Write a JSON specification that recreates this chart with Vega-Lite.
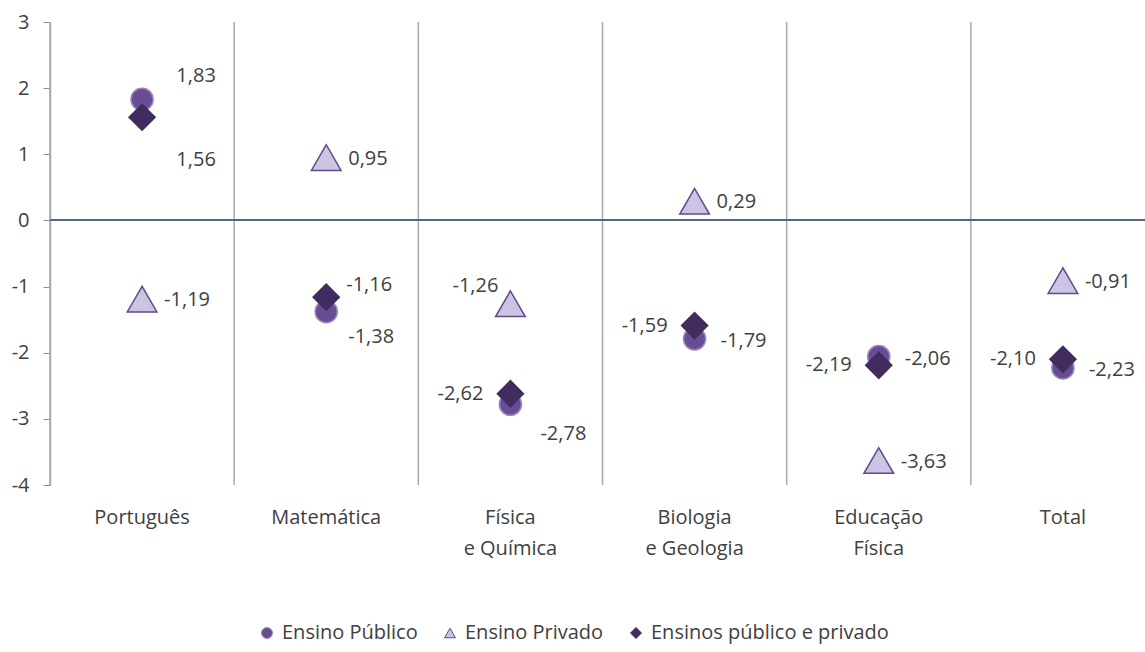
{
  "$schema": "https://vega.github.io/schema/vega-lite/v6.json",
  "width": 1095,
  "height": 463,
  "autosize": {"type": "none"},
  "padding": {"left": 50, "top": 22, "right": 0, "bottom": 167},
  "background": "white",
  "config": {
    "locale": {"number": {"decimal": ",", "thousands": ".", "grouping": [3], "currency": ["", " €"], "minus": "-"}},
    "font": "Open Sans",
    "view": {"stroke": null},
    "text": {"font": "Open Sans", "fontSize": 20, "fill": "#404040", "baseline": "middle"}
  },
  "data": {
    "values": [
      {"category": "Português", "series": "Ensino Público", "value": 1.83},
      {"category": "Matemática", "series": "Ensino Público", "value": -1.38},
      {"category": "Física e Química", "series": "Ensino Público", "value": -2.78},
      {"category": "Biologia e Geologia", "series": "Ensino Público", "value": -1.79},
      {"category": "Educação Física", "series": "Ensino Público", "value": -2.06},
      {"category": "Total", "series": "Ensino Público", "value": -2.23},
      {"category": "Português", "series": "Ensino Privado", "value": -1.19},
      {"category": "Matemática", "series": "Ensino Privado", "value": 0.95},
      {"category": "Física e Química", "series": "Ensino Privado", "value": -1.26},
      {"category": "Biologia e Geologia", "series": "Ensino Privado", "value": 0.29},
      {"category": "Educação Física", "series": "Ensino Privado", "value": -3.63},
      {"category": "Total", "series": "Ensino Privado", "value": -0.91},
      {"category": "Português", "series": "Ensinos público e privado", "value": 1.56},
      {"category": "Matemática", "series": "Ensinos público e privado", "value": -1.16},
      {"category": "Física e Química", "series": "Ensinos público e privado", "value": -2.62},
      {"category": "Biologia e Geologia", "series": "Ensinos público e privado", "value": -1.59},
      {"category": "Educação Física", "series": "Ensinos público e privado", "value": -2.19},
      {"category": "Total", "series": "Ensinos público e privado", "value": -2.10}
    ]
  },
  "layer": [
    {
      "transform": [{"filter": "datum.series == 'Ensino Público'"}],
      "mark": {"type": "rule", "color": "#a6a9ad", "strokeWidth": 1.5},
      "encoding": {
        "x": {"field": "category", "type": "nominal", "sort": null, "bandPosition": 0,
              "scale": {"type": "band", "paddingInner": 0, "paddingOuter": 0, "range": [0, 1105]},
              "axis": {"title": null, "domain": false, "ticks": false, "grid": false, "labelAngle": 0,
                       "labelFont": "Open Sans", "labelFontSize": 20, "labelColor": "#404040", "labelPadding": 22, "labelLineHeight": 31,
                       "labelExpr": "datum.label == 'Física e Química' ? ['Física', 'e Química'] : datum.label == 'Biologia e Geologia' ? ['Biologia', 'e Geologia'] : datum.label == 'Educação Física' ? ['Educação', 'Física'] : datum.label"}}
      }
    },
    {
      "mark": {"type": "rule", "color": "#56677a", "strokeWidth": 1.2},
      "encoding": {"y": {"datum": 0, "type": "quantitative"}}
    },
    {
      "mark": {"type": "point", "filled": true, "opacity": 1, "strokeWidth": 1.5},
      "encoding": {
        "x": {"field": "category", "type": "nominal", "sort": null, "scale": {"type": "band", "paddingInner": 0, "paddingOuter": 0, "range": [0, 1105]}},
        "y": {"field": "value", "type": "quantitative",
              "scale": {"domain": [-4, 3], "nice": false, "zero": false},
              "axis": {"title": null, "values": [-4, -3, -2, -1, 0, 1, 2, 3], "format": "d", "grid": false,
                       "domainColor": "#a9acb0", "domainWidth": 1.5, "tickColor": "#8a8d91", "tickSize": 7, "tickWidth": 1,
                       "labelFont": "Open Sans", "labelFontSize": 20, "labelColor": "#404040", "labelPadding": 14}},
        "shape": {"field": "series", "type": "nominal",
                  "scale": {"domain": ["Ensino Público", "Ensino Privado", "Ensinos público e privado"], "range": ["circle", "triangle-up", "diamond"]},
                  "legend": {"title": null, "orient": "none", "direction": "horizontal", "legendX": 207, "legendY": 601,
                             "labelFont": "Open Sans", "labelFontSize": 20, "labelColor": "#404040", "symbolSize": 120,
                             "labelOffset": 5, "columnPadding": 22, "symbolStrokeWidth": 1, "labelLimit": 400}},
        "fill": {"field": "series", "type": "nominal",
                 "scale": {"domain": ["Ensino Público", "Ensino Privado", "Ensinos público e privado"], "range": ["#6a4c94", "#cdc3e2", "#402c5e"]}},
        "stroke": {"field": "series", "type": "nominal",
                   "scale": {"domain": ["Ensino Público", "Ensino Privado", "Ensinos público e privado"], "range": ["#9a86bd", "#5f4b8b", "#402c5e"]}},
        "size": {"condition": [
                   {"test": "datum.series == 'Ensino Privado'", "value": 880},
                   {"test": "datum.series == 'Ensinos público e privado'", "value": 680}
                 ], "value": 490}
      }
    },
    {
      "transform": [{"filter": "datum.series == 'Ensino Público' && (datum.category == 'Biologia e Geologia' || datum.category == 'Educação Física' || datum.category == 'Total')"}],
      "mark": {"type": "text", "align": "left", "dx": 26, "dy": 2},
      "encoding": {
        "x": {"field": "category", "type": "nominal", "sort": null, "scale": {"type": "band", "paddingInner": 0, "paddingOuter": 0, "range": [0, 1105]}},
        "y": {"field": "value", "type": "quantitative"},
        "text": {"field": "value", "type": "quantitative", "format": ".2f"}
      }
    },
    {
      "transform": [{"filter": "datum.series == 'Ensino Público' && datum.category == 'Português'"}],
      "mark": {"type": "text", "align": "center", "dx": 54, "dy": -23},
      "encoding": {
        "x": {"field": "category", "type": "nominal", "sort": null, "scale": {"type": "band", "paddingInner": 0, "paddingOuter": 0, "range": [0, 1105]}},
        "y": {"field": "value", "type": "quantitative"},
        "text": {"field": "value", "type": "quantitative", "format": ".2f"}
      }
    },
    {
      "transform": [{"filter": "datum.series == 'Ensino Público' && datum.category == 'Matemática'"}],
      "mark": {"type": "text", "align": "left", "dx": 22, "dy": 25},
      "encoding": {
        "x": {"field": "category", "type": "nominal", "sort": null, "scale": {"type": "band", "paddingInner": 0, "paddingOuter": 0, "range": [0, 1105]}},
        "y": {"field": "value", "type": "quantitative"},
        "text": {"field": "value", "type": "quantitative", "format": ".2f"}
      }
    },
    {
      "transform": [{"filter": "datum.series == 'Ensino Público' && datum.category == 'Física e Química'"}],
      "mark": {"type": "text", "align": "left", "dx": 30, "dy": 30},
      "encoding": {
        "x": {"field": "category", "type": "nominal", "sort": null, "scale": {"type": "band", "paddingInner": 0, "paddingOuter": 0, "range": [0, 1105]}},
        "y": {"field": "value", "type": "quantitative"},
        "text": {"field": "value", "type": "quantitative", "format": ".2f"}
      }
    },
    {
      "transform": [{"filter": "datum.series == 'Ensino Privado' && datum.category != 'Física e Química'"}],
      "mark": {"type": "text", "align": "left", "dx": 22, "dy": 1},
      "encoding": {
        "x": {"field": "category", "type": "nominal", "sort": null, "scale": {"type": "band", "paddingInner": 0, "paddingOuter": 0, "range": [0, 1105]}},
        "y": {"field": "value", "type": "quantitative"},
        "text": {"field": "value", "type": "quantitative", "format": ".2f"}
      }
    },
    {
      "transform": [{"filter": "datum.series == 'Ensino Privado' && datum.category == 'Física e Química'"}],
      "mark": {"type": "text", "align": "right", "dx": -12, "dy": -18},
      "encoding": {
        "x": {"field": "category", "type": "nominal", "sort": null, "scale": {"type": "band", "paddingInner": 0, "paddingOuter": 0, "range": [0, 1105]}},
        "y": {"field": "value", "type": "quantitative"},
        "text": {"field": "value", "type": "quantitative", "format": ".2f"}
      }
    },
    {
      "transform": [{"filter": "datum.series == 'Ensinos público e privado' && datum.category != 'Português' && datum.category != 'Matemática'"}],
      "mark": {"type": "text", "align": "right", "dx": -27, "dy": 0},
      "encoding": {
        "x": {"field": "category", "type": "nominal", "sort": null, "scale": {"type": "band", "paddingInner": 0, "paddingOuter": 0, "range": [0, 1105]}},
        "y": {"field": "value", "type": "quantitative"},
        "text": {"field": "value", "type": "quantitative", "format": ".2f"}
      }
    },
    {
      "transform": [{"filter": "datum.series == 'Ensinos público e privado' && datum.category == 'Português'"}],
      "mark": {"type": "text", "align": "center", "dx": 54, "dy": 43},
      "encoding": {
        "x": {"field": "category", "type": "nominal", "sort": null, "scale": {"type": "band", "paddingInner": 0, "paddingOuter": 0, "range": [0, 1105]}},
        "y": {"field": "value", "type": "quantitative"},
        "text": {"field": "value", "type": "quantitative", "format": ".2f"}
      }
    },
    {
      "transform": [{"filter": "datum.series == 'Ensinos público e privado' && datum.category == 'Matemática'"}],
      "mark": {"type": "text", "align": "left", "dx": 20, "dy": -12},
      "encoding": {
        "x": {"field": "category", "type": "nominal", "sort": null, "scale": {"type": "band", "paddingInner": 0, "paddingOuter": 0, "range": [0, 1105]}},
        "y": {"field": "value", "type": "quantitative"},
        "text": {"field": "value", "type": "quantitative", "format": ".2f"}
      }
    }
  ]
}
